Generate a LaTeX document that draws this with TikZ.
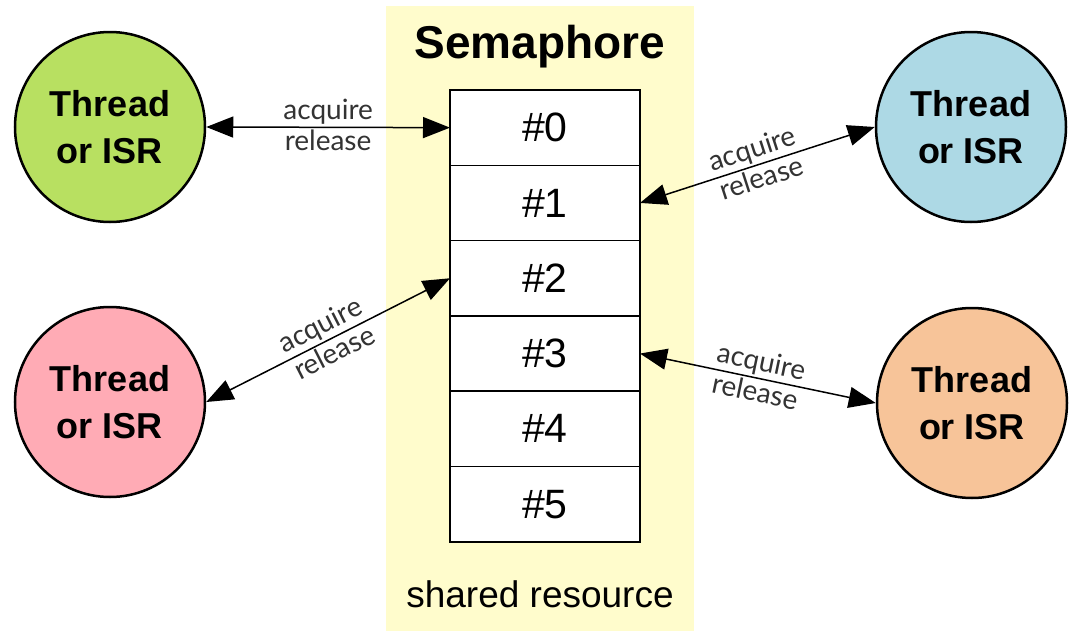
\documentclass[tikz,border=0pt]{standalone}
\usepackage{fontspec}
\setmainfont{Liberation Sans}
\newfontfamily\opfont{Lato}
\usetikzlibrary{positioning,arrows.meta}
\definecolor{paleyellow}{rgb}{1.00,0.99,0.80}
\definecolor{limegreen}{rgb}{0.72,0.88,0.38}
\definecolor{lightblue}{rgb}{0.68,0.85,0.90}
\definecolor{rosepink}{rgb}{1.00,0.67,0.71}
\definecolor{peach}{rgb}{0.97,0.77,0.60}
\definecolor{opgray}{rgb}{0.20,0.20,0.20}

\begin{document}
\begin{tikzpicture}
[x=1pt, y=-1pt,
 thread/.style={circle,draw,line width=2.5pt,minimum size=190pt,inner sep=0pt,align=center,font=\fontsize{36}{47}\selectfont\bfseries},
 slot/.style={rectangle,draw,line width=1.5pt,fill=white,minimum width=190pt,minimum height=75.3pt,inner sep=0pt,outer sep=0pt,font=\fontsize{41}{42}\selectfont},
 link/.style={{Triangle[length=27pt,width=21pt]}-{Triangle[length=27pt,width=21pt]},line width=1.5pt},
 op/.style={sloped,inner sep=2pt,text=opgray,font=\fontsize{28}{30}\selectfont\opfont}]
\useasboundingbox (0,0) rectangle (1069,632);

% semaphore with its six slots
\fill[paleyellow] (386,6) rectangle (694,631);
\node[anchor=base] (title) at (540,58) {\fontsize{46}{48}\selectfont\bfseries Semaphore};
\node[slot] (s0) at (545,127.65) {\#0};
\foreach \i [remember=\i as \j (initially 0)] in {1,...,5}
    \node[slot,below=0pt of s\j] (s\i) {\#\i};
\node[anchor=base] (caption) at (540,607) {\fontsize{37}{40}\selectfont shared resource};

% threads
\node[thread,fill=limegreen] (tl) at (110,127) {Thread\\or ISR};
\node[thread,fill=lightblue] (tr) at (971,127) {Thread\\or ISR};
\node[thread,fill=rosepink] (bl) at (110,402) {Thread\\or ISR};
\node[thread,fill=peach] (br) at (972,403) {Thread\\or ISR};

\draw[link] (tl.east) -- node[op,above]{acquire} node[op,below]{release} (s0.west);
\draw[link] (s1.east) -- node[op,above]{acquire} node[op,below]{release} (tr.west);
\draw[link] (bl.east) -- node[op,above]{acquire} node[op,below]{release} (s2.west);
\draw[link] (s3.east) -- node[op,above]{acquire} node[op,below]{release} (br.west);
\end{tikzpicture}
\end{document}
